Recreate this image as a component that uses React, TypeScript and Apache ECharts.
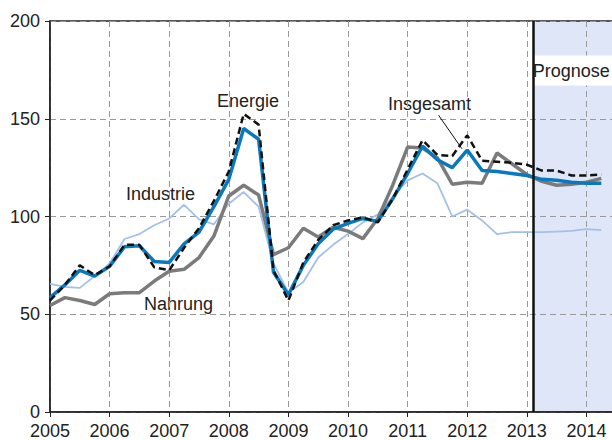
import React, { useEffect, useRef } from "react";
import * as echarts from "echarts";

const quarters = [
  2005, 2005.25, 2005.5, 2005.75, 2006, 2006.25, 2006.5, 2006.75,
  2007, 2007.25, 2007.5, 2007.75, 2008, 2008.25, 2008.5, 2008.75,
  2009, 2009.25, 2009.5, 2009.75, 2010, 2010.25, 2010.5, 2010.75,
  2011, 2011.25, 2011.5, 2011.75, 2012, 2012.25, 2012.5, 2012.75,
  2013, 2013.25, 2013.5, 2013.75, 2014, 2014.25,
];

const insgesamt = [
  58.5, 65, 72.5, 69.5, 74.5, 84.5, 85, 77, 76.5, 86, 92, 105, 119, 145, 139.5, 71.5,
  60, 75, 86, 93.5, 96.5, 99, 97.5, 109, 122, 136, 129, 125, 134, 123.5, 123, 122,
  121, 119, 118.5, 117.5, 117, 117,
];

const energie = [
  57, 65, 75, 70, 74.5, 85.5, 85.5, 74, 72.5, 84, 94, 108, 123, 152.5, 147, 72.5,
  57, 76.5, 88, 95.5, 98, 99.5, 97, 109, 124, 139, 131.5, 131, 141.5, 128.5, 128, 127.5,
  126.5, 123.5, 123.5, 121, 121, 121.5,
];

const nahrung = [
  54.5, 58.5, 57, 55, 60.5, 61, 61, 67, 72, 73, 79, 90, 110.5, 116, 111, 80.5,
  84, 94, 89.5, 94.5, 92.5, 88.7, 99, 116, 135.5, 135, 130, 116.5, 117.5, 117, 132.5, 127,
  121.5, 118, 116, 116.5, 117.5, 119.5,
];

const industrie = [
  65.5, 64, 63.5, 69.5, 76, 88.5, 91, 95.5, 99, 106, 98.5, 96, 106.5, 112.5, 105, 76,
  61, 66.5, 79, 85.5, 91, 97, 101, 110, 118.5, 122, 117, 100, 103.5, 98, 91, 92,
  92, 92, 92.3, 92.6, 93.5, 93,
];

const yearTicks = [2005, 2006, 2007, 2008, 2009, 2010, 2011, 2012, 2013, 2014];
const forecastStart = 2013.1;
const forecastEnd = 2015;
const forecastLabelBand = [167, 182.3];
const leader = [
  [2011.52, 151.8],
  [2011.91, 134.7],
];

const FONT = "Liberation Sans, Arial, Helvetica, sans-serif";
const TEXT = "#222";

export default function App() {
  const ref = useRef<HTMLDivElement>(null);
  useEffect(() => {
    const chart = echarts.init(ref.current!, null, { renderer: "svg" });
    const pair = (vals: number[]) => quarters.map((q, i) => [q, vals[i]]);
    const lineBase = {
      type: "line",
      symbol: "none",
      showSymbol: false,
      silent: true,
    };
    chart.setOption({
      animation: false,
      textStyle: { fontFamily: FONT },
      grid: {
        left: 50,
        top: 21,
        width: 596,
        height: 391,
        show: true,
        borderColor: "#222",
        borderWidth: 1.5,
        backgroundColor: "transparent",
      },
      xAxis: {
        type: "value",
        min: 2005,
        max: 2015,
        interval: 1,
        axisLine: { show: true, lineStyle: { color: "#222", width: 1.5 } },
        axisTick: { show: true, length: 5, lineStyle: { color: "#222", width: 1 } },
        axisLabel: {
          show: true,
          margin: 10,
          fontSize: 18,
          color: TEXT,
          fontFamily: FONT,
          formatter: (v: number) => (yearTicks.includes(v) ? String(v) : ""),
        },
        splitLine: { show: true, lineStyle: { color: "#999", type: [6, 4], width: 1 } },
      },
      yAxis: {
        type: "value",
        min: 0,
        max: 200,
        interval: 50,
        axisLine: { show: true, lineStyle: { color: "#222", width: 1.5 } },
        axisTick: { show: true, length: 5, lineStyle: { color: "#222", width: 1 } },
        axisLabel: { margin: 10, fontSize: 18, color: TEXT, fontFamily: FONT },
        splitLine: { show: true, lineStyle: { color: "#999", type: [6, 4], width: 1 } },
      },
      series: [
        {
          ...lineBase,
          name: "shade",
          data: [],
          markArea: {
            z: -1,
            silent: true,
            itemStyle: { color: "#dfe6f7" },
            data: [[{ xAxis: forecastStart }, { xAxis: forecastEnd }]],
          },
        },
        {
          ...lineBase,
          name: "Industrie",
          data: pair(industrie),
          lineStyle: { color: "#a3c0ea", width: 1.8 },
        },
        {
          ...lineBase,
          name: "Nahrung",
          data: pair(nahrung),
          lineStyle: { color: "#7b7b7b", width: 3.5 },
        },
        {
          ...lineBase,
          name: "Insgesamt",
          data: pair(insgesamt),
          lineStyle: { color: "#0a78bd", width: 3.5 },
          markLine: {
            silent: true,
            symbol: ["none", "none"],
            label: { show: false },
            lineStyle: { color: "#111", width: 1, type: "solid" },
            data: [[{ coord: leader[0] }, { coord: leader[1] }]],
          },
        },
        {
          ...lineBase,
          name: "Energie",
          data: pair(energie),
          lineStyle: { color: "#111", width: 2.5, type: [7, 4] },
        },
        {
          ...lineBase,
          name: "forecast",
          data: [],
          markArea: {
            silent: true,
            itemStyle: { color: "#ffffff" },
            label: {
              show: true,
              position: "insideLeft",
              distance: 0,
              formatter: "Prognose",
              fontSize: 18,
              color: TEXT,
              fontFamily: FONT,
            },
            data: [
              [
                { xAxis: forecastStart, yAxis: forecastLabelBand[0] },
                { xAxis: forecastEnd, yAxis: forecastLabelBand[1] },
              ],
            ],
          },
          markLine: {
            silent: true,
            symbol: ["none", "none"],
            label: { show: false },
            lineStyle: { color: "#111", width: 2.5, type: "solid" },
            data: [{ xAxis: forecastStart }],
          },
        },
      ],
      graphic: [
        { type: "text", x: 217, y: 101, style: { text: "Energie", font: `18px ${FONT}`, fill: TEXT, verticalAlign: "middle", align: "left" } },
        { type: "text", x: 126, y: 194, style: { text: "Industrie", font: `18px ${FONT}`, fill: TEXT, verticalAlign: "middle", align: "left" } },
        { type: "text", x: 144, y: 304, style: { text: "Nahrung", font: `18px ${FONT}`, fill: TEXT, verticalAlign: "middle", align: "left" } },
        { type: "text", x: 388, y: 104, style: { text: "Insgesamt", font: `18px ${FONT}`, fill: TEXT, verticalAlign: "middle", align: "left" } },
      ],
    });
    return () => chart.dispose();
  }, []);
  return (
    <div
      style={{
        position: "fixed",
        left: 0,
        top: 0,
        width: 612,
        height: 440,
        overflow: "hidden",
        background: "#fff",
      }}
    >
      <div ref={ref} style={{ width: 660, height: 440 }} />
    </div>
  );
}
